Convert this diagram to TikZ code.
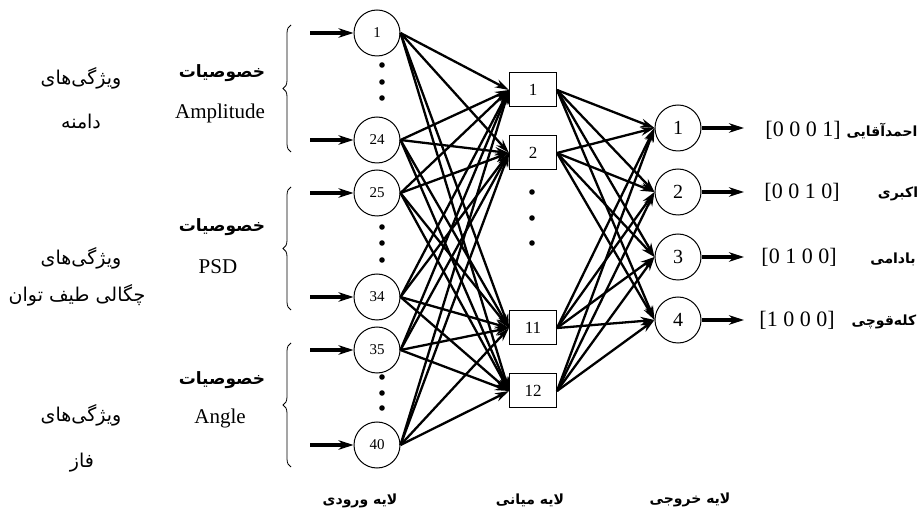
\documentclass[tikz,border=0pt]{standalone}
\usepackage{fontspec}
\setmainfont{Liberation Serif}
\newfontfamily\fa[Script=Arabic]{DejaVu Sans}
\TeXXeTstate=1
\usetikzlibrary{arrows.meta,decorations.pathreplacing}
\newcommand{\rtl}[1]{\beginR #1\endR}

\begin{document}
\begin{tikzpicture}[x=1pt,y=-1pt,
  inp/.style={circle, draw, line width=1pt, minimum size=46pt, inner sep=0pt,
    font=\fontsize{15}{15}\selectfont},
  hid/.style={rectangle, draw, line width=1pt, minimum width=47pt, minimum height=34pt,
    inner sep=0pt, font=\fontsize{17}{17}\selectfont},
  outn/.style={circle, draw, line width=1pt, minimum size=46pt, inner sep=0pt,
    font=\fontsize{20}{20}\selectfont},
  conn/.style={-{Stealth[length=14pt,width=8.5pt]}, line width=2.3pt},
  feed/.style={-{Stealth[length=15pt,width=9.5pt]}, line width=3.2pt},
  dotc/.style={fill=black},
  lat/.style={font=\fontsize{21}{21}\selectfont},
  vec/.style={font=\fontsize{22}{22}\selectfont},
  per/.style={font=\fa\fontsize{19}{19}\selectfont},
  perh/.style={font=\fa\bfseries\fontsize{17}{17}\selectfont},
  perb/.style={font=\fa\bfseries\fontsize{14}{14}\selectfont},
  brc/.style={decorate, decoration={brace, amplitude=8pt}, line width=0.8pt}
]
\useasboundingbox (0,0) rectangle (921,518);

% input layer
\node[inp] (i1)  at (377,33)  {1};
\node[inp] (i24) at (377,140) {24};
\node[inp] (i25) at (377,193) {25};
\node[inp] (i34) at (377,297) {34};
\node[inp] (i35) at (377,350) {35};
\node[inp] (i40) at (377,445) {40};

% hidden layer
\node[hid] (h1)  at (533,90)  {1};
\node[hid] (h2)  at (533,153) {2};
\node[hid] (h11) at (533,328) {11};
\node[hid] (h12) at (533,391) {12};

% output layer
\node[outn] (o1) at (678,128) {1};
\node[outn] (o2) at (678,192) {2};
\node[outn] (o3) at (678,257) {3};
\node[outn] (o4) at (678,320) {4};

% ellipsis dots
\foreach \y in {65,82,98} \fill[dotc] (382,\y) circle (2.8pt);
\foreach \y in {227,243,260} \fill[dotc] (382,\y) circle (2.8pt);
\foreach \y in {377,393,408} \fill[dotc] (382,\y) circle (2.8pt);
\foreach \y in {192,218,243} \fill[dotc] (532,\y) circle (2.8pt);

% feature inputs
\foreach \n/\y in {i1/33,i24/140,i25/193,i34/297,i35/350,i40/445}{
  \coordinate (s\n) at (310,\y);
  \draw[feed] (s\n) -- (\n.west);
}

% outputs
\foreach \n/\y in {o1/128,o2/192,o3/257,o4/320}{
  \coordinate (e\n) at (744,\y);
  \draw[feed] (\n.east) -- (e\n);
}

% full connections
\foreach \a in {i1,i24,i25,i34,i35,i40}
  \foreach \b in {h1,h2,h11,h12}
    \draw[conn] (\a.east) -- (\b.west);
\foreach \a in {h1,h2,h11,h12}
  \foreach \b in {o1,o2,o3,o4}
    \draw[conn] (\a.east) -- (\b.west);

% feature group braces
\draw[brc] (291,152) -- (291,25);
\draw[brc] (291,310) -- (291,187);
\draw[brc] (291,467) -- (291,343);

% feature group labels
\node[perh] (g1a) at (222,73)  {\rtl{خصوصیات}};
\node[lat]  (g1b) at (220,113) {Amplitude};
\node[perh] (g2a) at (222,227) {\rtl{خصوصیات}};
\node[lat]  (g2b) at (218,267) {PSD};
\node[perh] (g3a) at (222,380) {\rtl{خصوصیات}};
\node[lat]  (g3b) at (220,418) {Angle};

\node[per] (f1a) at (81,78)  {\rtl{ویژگی‌های}};
\node[per] (f1b) at (81,122) {\rtl{دامنه}};
\node[per] (f2a) at (81,258) {\rtl{ویژگی‌های}};
\node[per] (f2b) at (77,295) {\rtl{چگالی طیف توان}};
\node[per] (f3a) at (81,415) {\rtl{ویژگی‌های}};
\node[per] (f3b) at (82,463) {\rtl{فاز}};

% class codes
\node[vec] (c1) at (803,130) {[0 0 0 1]};
\node[vec] (c2) at (802,192) {[0 0 1 0]};
\node[vec] (c3) at (799,257) {[0 1 0 0]};
\node[vec] (c4) at (797,320) {[1 0 0 0]};
\node[perb] (n1) at (882,131) {\rtl{احمدآقایی}};
\node[perb] (n2) at (898,194) {\rtl{اکبری}};
\node[perb] (n3) at (893,259) {\rtl{بادامی}};
\node[perb] (n4) at (884,322) {\rtl{کله‌قوچی}};

% layer titles
\node[perb] (t1) at (360,501) {\rtl{لایه ورودی}};
\node[perb] (t2) at (530,500) {\rtl{لایه میانی}};
\node[perb] (t3) at (690,500) {\rtl{لایه خروجی}};
\end{tikzpicture}
\end{document}
